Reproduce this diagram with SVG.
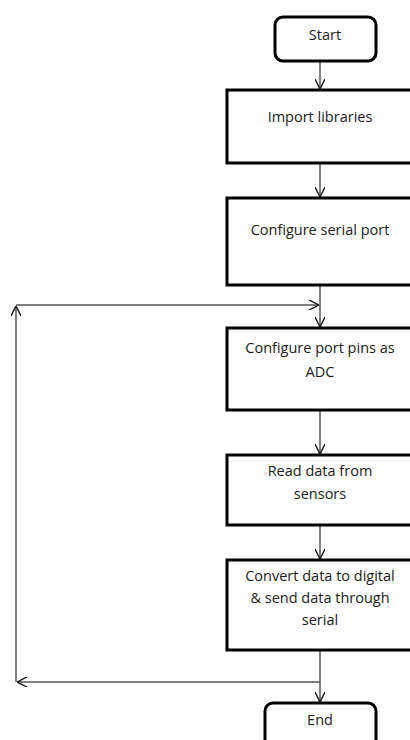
<svg xmlns="http://www.w3.org/2000/svg" width="410" height="740" viewBox="0 0 410 740">
<style>
.box{fill:#fff;stroke:#000;stroke-width:3}
.t{font-family:"Open Sans","Liberation Sans",sans-serif;font-size:14.5px;fill:#1a1a1a;text-anchor:middle}
.c{fill:none;stroke:#555;stroke-width:1.5}
</style>
<defs>
<marker id="a" viewBox="0 0 10 10" refX="10" refY="5" markerWidth="10" markerHeight="10" markerUnits="userSpaceOnUse" orient="auto">
<path d="M0,0 L10,5 L0,10" fill="none" stroke="#222" stroke-width="1.5"/>
</marker>
</defs>
<g id="connectors">
<line class="c" x1="320" y1="61" x2="320" y2="89" marker-end="url(#a)"/>
<line class="c" x1="320" y1="163" x2="320" y2="197" marker-end="url(#a)"/>
<line class="c" x1="320" y1="285" x2="320" y2="327" marker-end="url(#a)"/>
<line class="c" x1="320" y1="410" x2="320" y2="454" marker-end="url(#a)"/>
<line class="c" x1="320" y1="525" x2="320" y2="559" marker-end="url(#a)"/>
<line class="c" x1="320" y1="650" x2="320" y2="702" marker-end="url(#a)"/>
<line class="c" x1="320" y1="682" x2="17" y2="682" marker-end="url(#a)"/>
<line class="c" x1="16" y1="682" x2="16" y2="306" marker-end="url(#a)"/>
<line class="c" x1="16" y1="305" x2="319" y2="305" marker-end="url(#a)"/>
</g>
<g id="start">
<rect class="box" x="275" y="17" width="101" height="44" rx="8"/>
<text class="t" x="325" y="40">Start</text>
</g>
<g id="import">
<rect class="box" x="227" y="90" width="200" height="73"/>
<text class="t" x="320" y="122">Import libraries</text>
</g>
<g id="serial">
<rect class="box" x="227" y="198" width="200" height="87"/>
<text class="t" x="320" y="235">Configure serial port</text>
</g>
<g id="adc">
<rect class="box" x="227" y="328" width="200" height="82"/>
<text class="t" x="320" y="353">Configure port pins as</text>
<text class="t" x="320" y="377">ADC</text>
</g>
<g id="read">
<rect class="box" x="227" y="455" width="200" height="70"/>
<text class="t" x="320" y="476">Read data from</text>
<text class="t" x="320" y="499">sensors</text>
</g>
<g id="convert">
<rect class="box" x="227" y="560" width="200" height="90"/>
<text class="t" x="320" y="581">Convert data to digital</text>
<text class="t" x="320" y="603">&amp; send data through</text>
<text class="t" x="320" y="625">serial</text>
</g>
<g id="end">
<rect class="box" x="265" y="703" width="111" height="60" rx="8"/>
<text class="t" x="320" y="725">End</text>
</g>
</svg>
